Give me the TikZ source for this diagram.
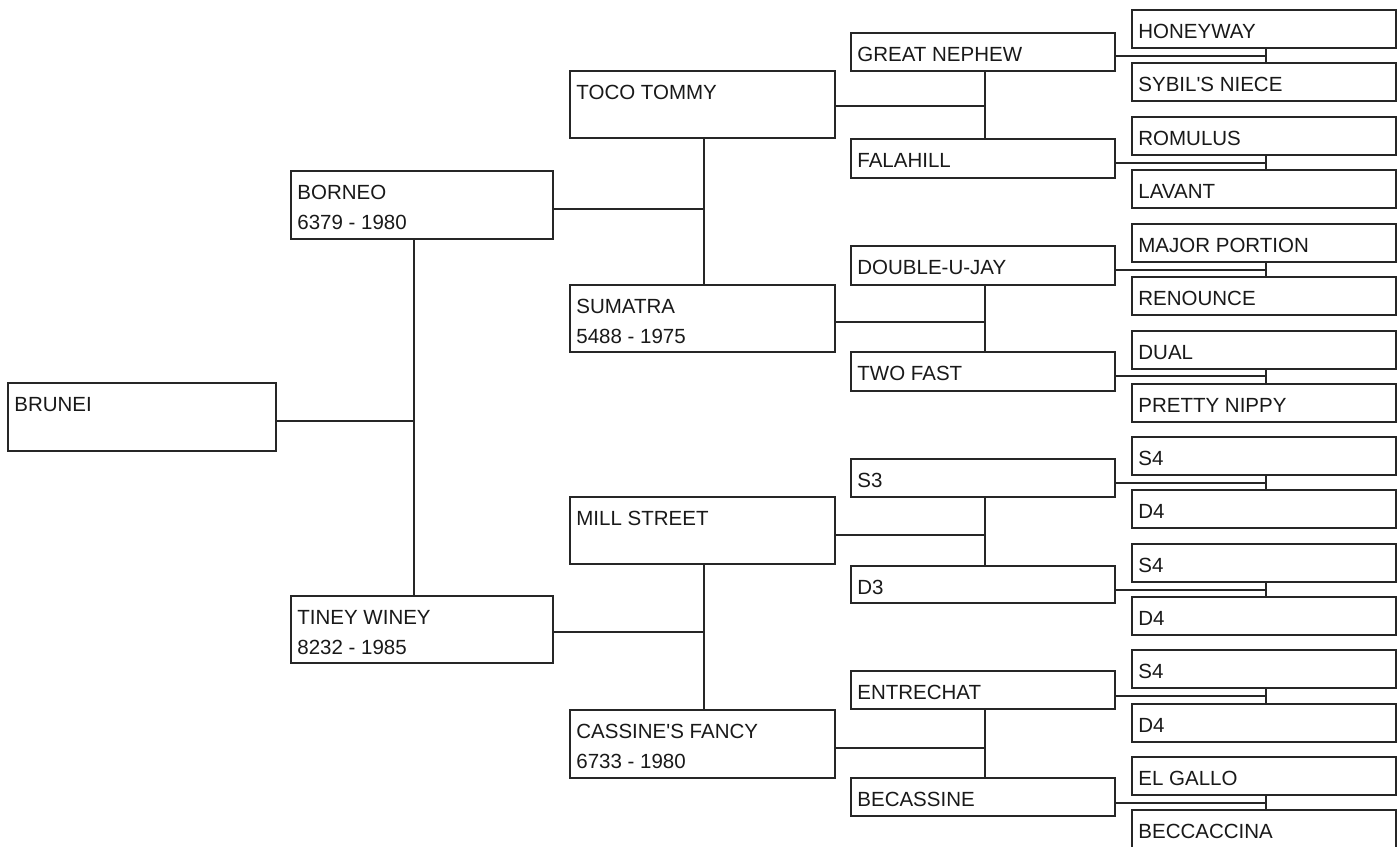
\documentclass[tikz,border=0pt]{standalone}
\usepackage{fontspec}
\setmainfont{Liberation Sans}
\usetikzlibrary{fit}
\tikzset{
  box/.style={draw=black!85, line width=1.6pt, inner sep=0pt},
  conn/.style={draw=black!85, line width=1.6pt},
  lbl/.style={anchor=base west, inner sep=0pt, font=\fontsize{20.5}{24}\selectfont, text=black!90}
}
\newcommand\pbox[6]{% name x1 y1 x2 y2 text
  \node[box, fit={(#2,#3)(#4,#5)}] (#1) {};
  \node[lbl] (#1-a) at ([shift={(7,29)}]#1.north west) {#6};
}
\newcommand\pboxii[7]{% name x1 y1 x2 y2 line1 line2
  \node[box, fit={(#2,#3)(#4,#5)}] (#1) {};
  \node[lbl] (#1-a) at ([shift={(7,29)}]#1.north west) {#6};
  \node[lbl] (#1-b) at ([shift={(7,59)}]#1.north west) {#7};
}
\newcommand\plink[5]{% parent upper lower x y
  \coordinate (#1-j) at (#4,#5);
  \draw[conn] (#1.east |- #1-j) -- (#1-j);
  \draw[conn] (#2.south -| #1-j) -- (#3.north -| #1-j);
}
\begin{document}
\begin{tikzpicture}[x=1pt,y=-1pt]
\useasboundingbox (0,0) rectangle (1397,846);
\fill[white] (0,0) rectangle (1397,846);
\clip (0,0) rectangle (1397,846);
% generation 1
\pbox{brunei}{8}{383}{276}{451}{BRUNEI}
% generation 2
\pboxii{borneo}{291}{171}{553}{239}{BORNEO}{6379 - 1980}
\pboxii{tiney}{291}{596}{553}{663}{TINEY WINEY}{8232 - 1985}
% generation 3
\pbox{toco}{570}{71}{835}{138}{TOCO TOMMY}
\pboxii{sumatra}{570}{285}{835}{352}{SUMATRA}{5488 - 1975}
\pbox{mill}{570}{497}{835}{564}{MILL STREET}
\pboxii{cassine}{570}{710}{835}{778}{CASSINE\textquotesingle S FANCY}{6733 - 1980}
% generation 4
\pbox{gn}{851}{33}{1115}{71}{GREAT NEPHEW}
\pbox{fala}{851}{139}{1115}{178}{FALAHILL}
\pbox{duj}{851}{246}{1115}{285}{DOUBLE-U-JAY}
\pbox{twofast}{851}{352}{1115}{391}{TWO FAST}
\pbox{sthree}{851}{459}{1115}{497}{S3}
\pbox{dthree}{851}{566}{1115}{603}{D3}
\pbox{entre}{851}{671}{1115}{709}{ENTRECHAT}
\pbox{becas}{851}{778}{1115}{816}{BECASSINE}
% generation 5
\pbox{honey}{1132}{10}{1396}{48}{HONEYWAY}
\pbox{sybil}{1132}{63}{1396}{101}{SYBIL\textquotesingle S NIECE}
\pbox{romulus}{1132}{117}{1396}{155}{ROMULUS}
\pbox{lavant}{1132}{170}{1396}{208}{LAVANT}
\pbox{major}{1132}{224}{1396}{262}{MAJOR PORTION}
\pbox{renounce}{1132}{277}{1396}{315}{RENOUNCE}
\pbox{dual}{1132}{331}{1396}{369}{DUAL}
\pbox{pretty}{1132}{384}{1396}{422}{PRETTY NIPPY}
\pbox{sfoura}{1132}{437}{1396}{475}{S4}
\pbox{dfoura}{1132}{490}{1396}{528}{D4}
\pbox{sfourb}{1132}{544}{1396}{582}{S4}
\pbox{dfourb}{1132}{597}{1396}{635}{D4}
\pbox{sfourc}{1132}{650}{1396}{688}{S4}
\pbox{dfourc}{1132}{704}{1396}{742}{D4}
\pbox{elgallo}{1132}{757}{1396}{795}{EL GALLO}
\pbox{becca}{1132}{810}{1396}{848}{BECCACCINA}
% connectors
\plink{brunei}{borneo}{tiney}{414}{421}
\plink{borneo}{toco}{sumatra}{704}{209}
\plink{tiney}{mill}{cassine}{704}{632}
\plink{toco}{gn}{fala}{985}{106}
\plink{sumatra}{duj}{twofast}{985}{322}
\plink{mill}{sthree}{dthree}{985}{535}
\plink{cassine}{entre}{becas}{985}{748}
\plink{gn}{honey}{sybil}{1266}{56}
\plink{fala}{romulus}{lavant}{1266}{163}
\plink{duj}{major}{renounce}{1266}{270}
\plink{twofast}{dual}{pretty}{1266}{376}
\plink{sthree}{sfoura}{dfoura}{1266}{483}
\plink{dthree}{sfourb}{dfourb}{1266}{590}
\plink{entre}{sfourc}{dfourc}{1266}{696}
\plink{becas}{elgallo}{becca}{1266}{803}
\end{tikzpicture}
\end{document}
